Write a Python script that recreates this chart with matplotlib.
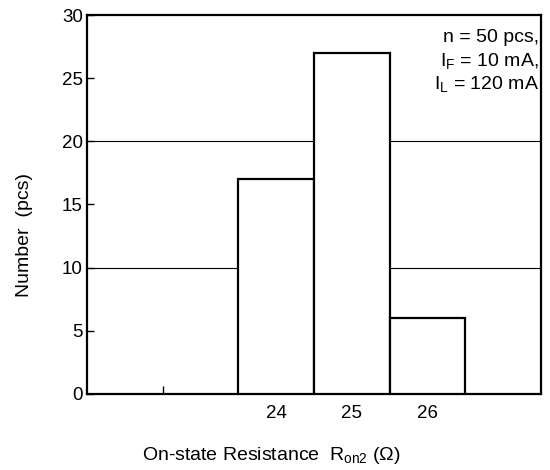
import matplotlib
matplotlib.use('Agg')
import matplotlib.pyplot as plt

plt.rcParams['font.family'] = ['Liberation Sans', 'DejaVu Sans']
plt.rcParams['mathtext.fontset'] = 'custom'
plt.rcParams['mathtext.rm'] = 'Liberation Sans'
plt.rcParams['mathtext.it'] = 'Liberation Sans'

# data
resistance = [24, 25, 26]
counts = [17, 27, 6]
y_ticks = [0, 5, 10, 15, 20, 25, 30]
grid_levels = [10, 20]
notes = ["n = 50 pcs,", r"I$_{\rm F}$ = 10 mA,", r"I$_{\rm L}$ = 120 mA"]

fig = plt.figure(figsize=(5.5, 4.7), dpi=100)
ax = fig.add_axes([0.158, 0.162, 0.826, 0.806])

ax.bar(resistance, counts, width=1.0, facecolor='white', edgecolor='black',
       linewidth=1.6, zorder=3)
for g in grid_levels:
    ax.axhline(g, color='black', linewidth=0.8, zorder=1)

ax.set_xlim(21.5, 27.5)
ax.set_ylim(0, 30)

ax.set_yticks(y_ticks)
ax.set_yticklabels([str(v) for v in y_ticks], fontsize=13.5)
ax.tick_params(axis='y', direction='in', length=5, width=1, pad=3)

# x: one minor tick mark, labels under bars without marks
ax.set_xticks(resistance)
ax.set_xticklabels([str(v) for v in resistance], fontsize=13.5)
ax.tick_params(axis='x', length=0, pad=8)
ax.set_xticks([22.5], minor=True)
ax.tick_params(axis='x', which='minor', direction='in', length=6, width=1)

for s in ax.spines.values():
    s.set_linewidth(1.6)

ax.set_ylabel("Number  (pcs)", fontsize=14)
ax.set_xlabel(r"On-state Resistance  R$_{\rm on2}$ ($\Omega$)", fontsize=14)
ax.xaxis.set_label_coords(0.407, -0.135)
ax.yaxis.set_label_coords(-0.118, 0.42)

for i, t in enumerate(notes):
    ax.text(0.995, 0.94 - i * 0.061, t, transform=ax.transAxes, ha='right',
            va='center', fontsize=14)

fig.savefig('out.png', dpi=100)
